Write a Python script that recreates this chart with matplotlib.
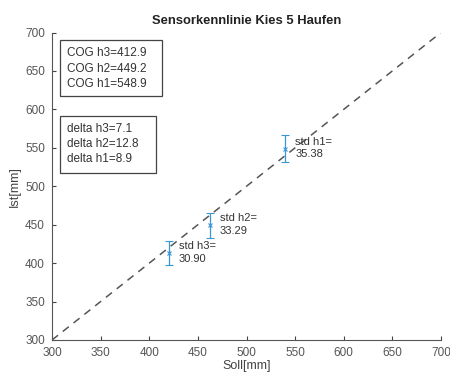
import matplotlib
matplotlib.use("Agg")
import matplotlib.pyplot as plt
from matplotlib.patches import Rectangle

plt.rcParams['font.family'] = ['Liberation Sans', 'DejaVu Sans']

labels = ["h3", "h2", "h1"]
soll = [420, 462, 540]
cog = [412.9, 449.2, 548.9]
std = [30.90, 33.29, 35.38]
delta = [7.1, 12.8, 8.9]
ticks = [300, 350, 400, 450, 500, 550, 600, 650, 700]

fig = plt.figure(figsize=(4.5, 3.78), dpi=100)
ax = fig.add_axes([52/450, 1-340/378, (441-52)/450, (340-32.5)/378])

ax.plot([300, 700], [300, 700], linestyle=(0, (5, 4)), color='#555555', lw=1.1)
ax.errorbar(soll, cog, yerr=[s/2 for s in std], fmt='x', color='#3a97d4',
            ms=3, mew=0.8, elinewidth=0.9, capsize=3, capthick=0.9)

for x, y, l, s in zip(soll, cog, labels, std):
    ax.annotate(f"std {l}=\n{s:.2f}", xy=(x, y), xytext=(10, 12),
                textcoords='offset pixels', ha='left', va='top',
                fontsize=8, color='#333333', linespacing=1.35)

# annotation boxes (axes coordinates)
ax.add_patch(Rectangle((0.0206, 0.7935), 0.2622, 0.1821, transform=ax.transAxes,
                       fill=True, fc='white', ec='#444444', lw=0.9, zorder=3))
ax.add_patch(Rectangle((0.0206, 0.5431), 0.2468, 0.1854, transform=ax.transAxes,
                       fill=True, fc='white', ec='#444444', lw=0.9, zorder=3))
cog_y = [0.9333, 0.8813, 0.8325]
del_y = [0.6862, 0.6374, 0.5886]
for l, c, yy in zip(labels, cog, cog_y):
    ax.text(0.0386, yy, f"COG {l}={c:.1f}", transform=ax.transAxes, ha='left',
            va='center', fontsize=8.5, color='#333333', zorder=4)
for l, d, yy in zip(labels, delta, del_y):
    ax.text(0.0386, yy, f"delta {l}={d:.1f}", transform=ax.transAxes, ha='left',
            va='center', fontsize=8.5, color='#333333', zorder=4)

ax.set_xlim(300, 700)
ax.set_ylim(300, 700)
ax.set_xticks(ticks)
ax.set_yticks(ticks)
ax.tick_params(direction='in', length=3, width=0.8, colors='#444444',
               labelsize=8.5, labelcolor='#555555', pad=5)
for side in ['top', 'right']:
    ax.spines[side].set_visible(False)
for side in ['left', 'bottom']:
    ax.spines[side].set_color('#555555')
    ax.spines[side].set_linewidth(0.8)

ax.set_xlabel("Soll[mm]", fontsize=9, color='#444444', labelpad=1)
ax.set_ylabel("Ist[mm]", fontsize=9, color='#444444', labelpad=3)
ax.set_title("Sensorkennlinie Kies 5 Haufen", fontsize=9.4, fontweight='bold',
             color='#222222', pad=6)

fig.savefig("out.png", dpi=100, facecolor='white')
